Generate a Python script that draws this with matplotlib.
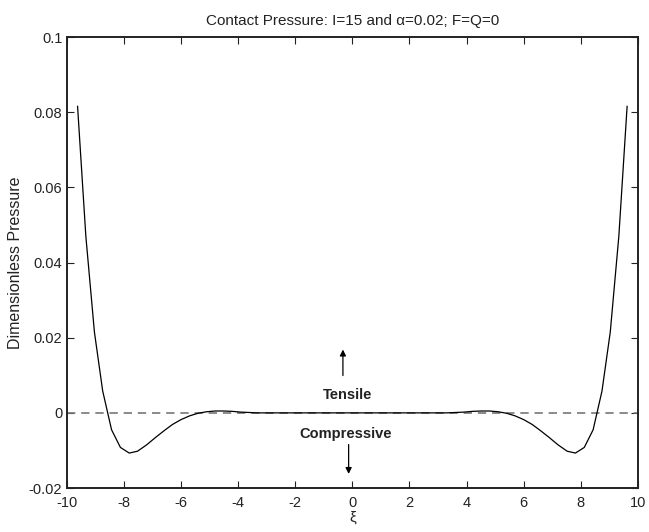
import numpy as np
import matplotlib.pyplot as plt

plt.rcParams['font.family'] = ['Liberation Sans', 'DejaVu Sans']

# values
xi = [-9.62, -9.33, -9.03, -8.74, -8.43, -8.12, -7.81, -7.52, -7.2, -6.9,
      -6.6, -6.3, -6.0, -5.7, -5.4, -5.1, -4.8, -4.5, -4.2, -3.9, -3.6,
      -3.3, -3.0, -2.0, -1.0, 0.0, 1.0, 2.0, 3.0, 3.3, 3.6, 3.9, 4.2, 4.5,
      4.8, 5.1, 5.4, 5.7, 6.0, 6.3, 6.6, 6.9, 7.2, 7.52, 7.81, 8.12, 8.43,
      8.74, 9.03, 9.33, 9.62]
pressure = [0.0816, 0.0470, 0.0215, 0.0058, -0.0045, -0.0092, -0.0107,
            -0.0102, -0.0085, -0.0066, -0.0048, -0.0031, -0.0018, -0.0008,
            -0.0001, 0.0003, 0.0005, 0.0005, 0.0004, 0.0002, 0.0001, 0.0,
            0.0, 0.0, 0.0, 0.0, 0.0, 0.0, 0.0, 0.0, 0.0001, 0.0002, 0.0004,
            0.0005, 0.0005, 0.0003, -0.0001, -0.0008, -0.0018, -0.0031,
            -0.0048, -0.0066, -0.0085, -0.0102, -0.0107, -0.0092, -0.0045,
            0.0058, 0.0215, 0.0470, 0.0816]

xticks = [-10, -8, -6, -4, -2, 0, 2, 4, 6, 8, 10]
yticks = [-0.02, 0, 0.02, 0.04, 0.06, 0.08, 0.1]
yticklabels = ['-0.02', '0', '0.02', '0.04', '0.06', '0.08', '0.1']

fig = plt.figure(figsize=(6.49, 5.32), dpi=100)
ax = fig.add_axes([0.1028, 0.0827, 0.8802, 0.8473])

ax.axhline(0, color='#777777', lw=1.2, ls=(0, (5, 3.5)))
ax.plot(xi, pressure, color='black', lw=0.9)

ax.annotate('', xy=(-0.33, 0.0176), xytext=(-0.33, 0.0092),
            arrowprops=dict(arrowstyle='-|>', color='black', lw=0.9,
                            mutation_scale=9))
ax.annotate('', xy=(-0.13, -0.0170), xytext=(-0.13, -0.0077),
            arrowprops=dict(arrowstyle='-|>', color='black', lw=0.9,
                            mutation_scale=9))
ax.text(-0.15, 0.0047, 'Tensile', ha='center', va='center',
        fontsize=10.5, fontweight='bold', color='#222222')
ax.text(-0.25, -0.0055, 'Compressive', ha='center', va='center',
        fontsize=10.5, fontweight='bold', color='#222222')

ax.set_xlim(-10, 10)
ax.set_ylim(-0.02, 0.1)
ax.set_xticks(xticks)
ax.set_xticklabels([str(t) for t in xticks])
ax.set_yticks(yticks)
ax.set_yticklabels(yticklabels)
ax.tick_params(direction='in', top=True, right=True, length=5, width=0.8,
               labelsize=10.5, colors='#222222')
ax.tick_params(axis='x', pad=5.5)
ax.tick_params(axis='y', pad=3.2)
for s in ax.spines.values():
    s.set_linewidth(1.4)
    s.set_color('#222222')

ax.set_title('Contact Pressure: I=15 and \u03b1=0.02; F=Q=0', fontsize=11,
             color='#222222', pad=9)
ax.set_xlabel('\u03be', fontsize=11, color='#222222', labelpad=1)
ax.set_ylabel('Dimensionless Pressure', fontsize=11.5, color='#222222',
              labelpad=4)

fig.savefig('out.png', dpi=100)
